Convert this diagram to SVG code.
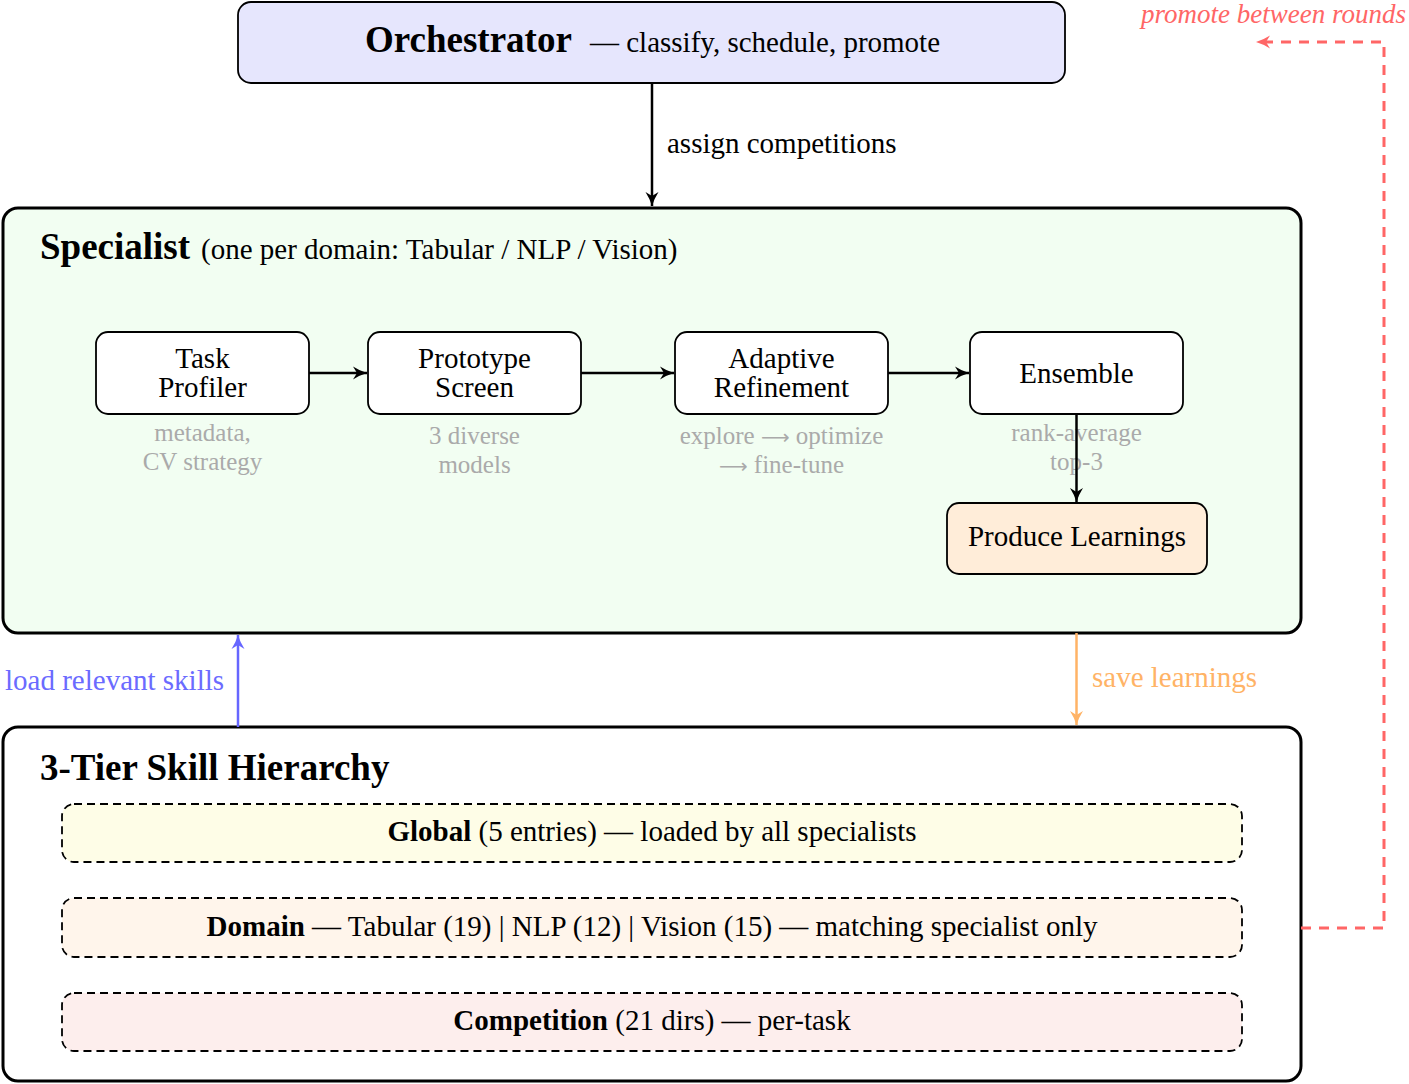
<svg xmlns="http://www.w3.org/2000/svg" width="1409" height="1084" viewBox="0 0 1409 1084">
<style>
text{font-family:"Liberation Serif","Times New Roman",serif;fill:#000}
.b{font-weight:bold}
.t{font-size:29px}
.h{font-size:37px}
.g{font-size:25px;fill:#aaaaaa}
.c{text-anchor:middle}
.arr{font-family:"DejaVu Sans",sans-serif;font-size:20px}
.node{fill:#fff;stroke:#000;stroke-width:1.8}
.tier{stroke:#000;stroke-width:1.8;stroke-dasharray:8 5}
</style>
<defs>
<marker id="ak" markerUnits="userSpaceOnUse" markerWidth="18" markerHeight="16" refX="14" refY="8" orient="auto"><path d="M0,1.5 Q7,6 14,8 Q7,10 0,14.5 L4,8 z" fill="#000"/></marker>
<marker id="ab" markerUnits="userSpaceOnUse" markerWidth="18" markerHeight="16" refX="14" refY="8" orient="auto"><path d="M0,1.5 Q7,6 14,8 Q7,10 0,14.5 L4,8 z" fill="#6666ff"/></marker>
<marker id="ao" markerUnits="userSpaceOnUse" markerWidth="18" markerHeight="16" refX="14" refY="8" orient="auto"><path d="M0,1.5 Q7,6 14,8 Q7,10 0,14.5 L4,8 z" fill="#ffb366"/></marker>
<marker id="ar" markerUnits="userSpaceOnUse" markerWidth="18" markerHeight="16" refX="14" refY="8" orient="auto"><path d="M0,1.5 Q7,6 14,8 Q7,10 0,14.5 L4,8 z" fill="#ff6666"/></marker>
</defs>

<g id="orchestrator">
<rect x="238" y="2" width="827" height="81" rx="13" fill="#e6e6fd" stroke="#000" stroke-width="1.8"/>
<text x="365" y="52" class="b h">Orchestrator</text>
<text x="590" y="52" class="t">— classify, schedule, promote</text>
</g>

<g id="specialist">
<rect x="3" y="208" width="1298" height="425" rx="15" fill="#f2fef2" stroke="#000" stroke-width="3"/>
<text x="40" y="259" class="b h">Specialist</text>
<text x="201" y="259" class="t">(one per domain: Tabular / NLP / Vision)</text>
</g>

<g id="task-profiler">
<rect x="96" y="332" width="213" height="82" rx="12" class="node"/>
<text x="202.5" y="368" class="t c">Task</text>
<text x="202.5" y="397" class="t c">Profiler</text>
<text x="202.5" y="441" class="g c">metadata,</text>
<text x="202.5" y="470" class="g c">CV strategy</text>
</g>

<g id="prototype-screen">
<rect x="368" y="332" width="213" height="82" rx="12" class="node"/>
<text x="474.5" y="368" class="t c">Prototype</text>
<text x="474.5" y="397" class="t c">Screen</text>
<text x="474.5" y="444" class="g c">3 diverse</text>
<text x="474.5" y="473" class="g c">models</text>
</g>

<g id="adaptive-refinement">
<rect x="675" y="332" width="213" height="82" rx="12" class="node"/>
<text x="781.5" y="368" class="t c">Adaptive</text>
<text x="781.5" y="397" class="t c">Refinement</text>
<text x="781.5" y="444" class="g c">explore <tspan class="arr">⟶</tspan> optimize</text>
<text x="781.5" y="473" class="g c"><tspan class="arr">⟶</tspan> fine-tune</text>
</g>

<g id="ensemble">
<rect x="970" y="332" width="213" height="82" rx="12" class="node"/>
<text x="1076.5" y="383" class="t c">Ensemble</text>
<text x="1076.5" y="441" class="g c">rank-average</text>
<text x="1076.5" y="470" class="g c">top-3</text>
</g>

<g id="produce-learnings">
<rect x="947" y="503" width="260" height="71" rx="12" fill="#ffedd9" stroke="#000" stroke-width="1.8"/>
<text x="1077" y="546" class="t c">Produce Learnings</text>
</g>

<g id="skill-hierarchy">
<rect x="3" y="727" width="1298" height="354" rx="15" fill="#fff" stroke="#000" stroke-width="3"/>
<text x="40" y="780" class="b h">3-Tier Skill Hierarchy</text>
</g>

<g id="tier-global">
<rect x="62" y="804" width="1180" height="58" rx="12" fill="#fefde7" class="tier"/>
<text x="652" y="841" class="t c"><tspan class="b">Global</tspan> (5 entries) — loaded by all specialists</text>
</g>

<g id="tier-domain">
<rect x="62" y="898" width="1180" height="59" rx="12" fill="#fff5eb" class="tier"/>
<text x="652" y="936" class="t c"><tspan class="b">Domain</tspan> — Tabular (19) | NLP (12) | Vision (15) — matching specialist only</text>
</g>

<g id="tier-competition">
<rect x="62" y="993" width="1180" height="58" rx="12" fill="#fdeeed" class="tier"/>
<text x="652" y="1030" class="t c"><tspan class="b">Competition</tspan> (21 dirs) — per-task</text>
</g>

<g id="connectors" fill="none">
<line x1="652" y1="83" x2="652" y2="206" stroke="#000" stroke-width="2.5" marker-end="url(#ak)"/>
<line x1="309" y1="373" x2="367" y2="373" stroke="#000" stroke-width="2.5" marker-end="url(#ak)"/>
<line x1="581" y1="373" x2="674" y2="373" stroke="#000" stroke-width="2.5" marker-end="url(#ak)"/>
<line x1="888" y1="373" x2="969" y2="373" stroke="#000" stroke-width="2.5" marker-end="url(#ak)"/>
<line x1="1076.5" y1="414" x2="1076.5" y2="502" stroke="#000" stroke-width="2.5" marker-end="url(#ak)"/>
<line x1="238" y1="727" x2="238" y2="635" stroke="#6666ff" stroke-width="2.5" marker-end="url(#ab)"/>
<line x1="1076.5" y1="633" x2="1076.5" y2="725" stroke="#ffb366" stroke-width="2.5" marker-end="url(#ao)"/>
<polyline points="1301,928 1384,928 1384,42 1256,42" stroke="#ff6666" stroke-width="3" stroke-dasharray="10 8" marker-end="url(#ar)"/>
<text x="667" y="153" class="t">assign competitions</text>
<text x="5" y="690" class="t" style="fill:#6b6bff">load relevant skills</text>
<text x="1092" y="687" class="t" style="fill:#ffb366">save learnings</text>
<text x="1406" y="23" style="fill:#ff6666;font-style:italic;text-anchor:end;font-size:27px">promote between rounds</text>
</g>
</svg>
